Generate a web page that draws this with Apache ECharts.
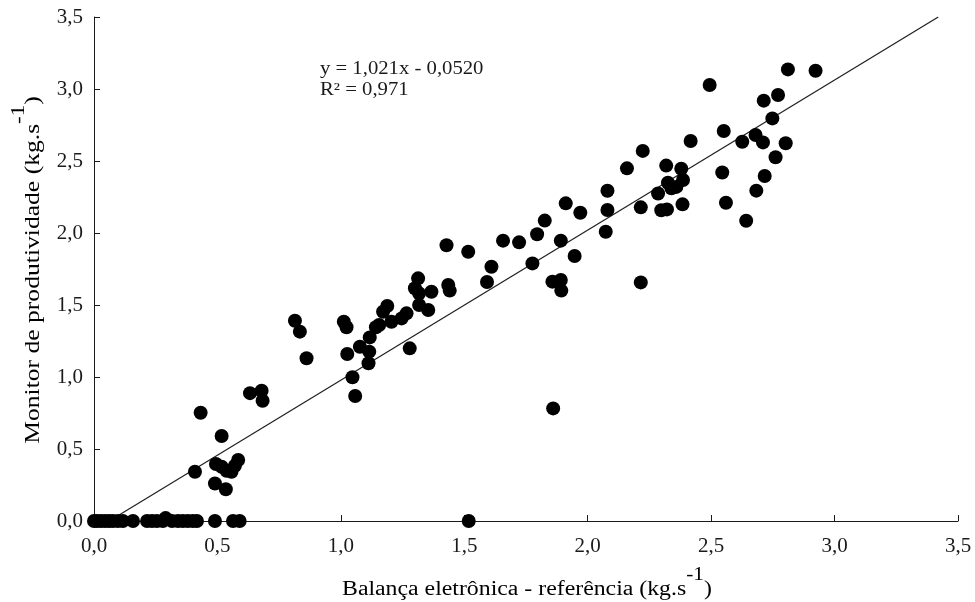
<!DOCTYPE html>
<html><head><meta charset="utf-8">
<script src="https://cdn.jsdelivr.net/npm/echarts@6/dist/echarts.min.js"></script>
<style>html,body{margin:0;padding:0;background:#fff}#c{width:975px;height:602px}</style>
</head><body><div id="c"></div>
<script>
const xTitle = ['Balança eletrônica - referência (kg.s', '-1', ')'];
const yTitle = ['Monitor de produtividade (kg.s', '-1', ')'];
const eqText = ['y = 1,021x - 0,0520', 'R² = 0,971'];
const xVals = [0.000,0.012,0.028,0.045,0.061,0.077,0.097,0.117,0.158,0.215,0.235,0.255,0.279,0.290,0.316,0.340,0.360,0.380,0.400,0.417,0.490,0.563,0.590,1.518,
0.409,0.432,0.490,0.494,0.517,0.517,0.534,0.537,0.557,0.571,0.584,0.632,0.679,0.683,
0.814,0.834,0.861,1.012,1.023,1.026,1.047,1.058,1.077,1.112,1.115,1.117,1.142,1.155,1.171,1.188,1.205,1.246,1.266,1.279,1.300,1.313,1.317,1.317,1.354,1.367,1.428,1.435,1.441,1.516,1.592,1.610,1.657,1.722,1.776,1.795,1.826,1.857,1.860,1.891,1.891,1.893,1.911,1.947,1.970,2.073,2.080,2.080,2.159,2.215,2.215,2.223,2.285,2.298,2.318,2.321,2.325,2.339,2.359,2.379,2.386,2.384,2.417,2.494,2.545,2.551,2.560,2.626,2.642,2.680,2.683,2.710,2.713,2.717,2.748,2.761,2.771,2.802,2.811,2.923];
const yVals = [0,0,0,0,0,0,0,0,0,0,0,0,0,0.02,0,0,0,0,0,0,0,0,0,0,
0.342,0.752,0.260,0.396,0.590,0.377,0.220,0.349,0.342,0.384,0.424,0.888,0.905,0.835,
1.391,1.315,1.130,1.384,1.345,1.160,0.998,0.868,1.210,1.095,1.176,1.275,1.345,1.361,1.453,1.493,1.384,1.407,1.442,1.199,1.616,1.685,1.581,1.500,1.465,1.592,1.915,1.639,1.600,1.870,1.660,1.766,1.947,1.935,1.789,1.991,2.086,1.662,0.782,1.947,1.674,1.600,2.206,1.840,2.141,2.009,2.293,2.160,2.449,1.657,2.178,2.570,2.274,2.158,2.468,2.164,2.349,2.310,2.320,2.446,2.368,2.199,2.639,3.028,2.420,2.708,2.210,2.634,2.085,2.681,2.294,2.629,2.919,2.396,2.796,2.526,2.958,2.623,3.136,3.127];
const trendX = [0.10, 3.42];
const trendY = [0.04, 3.50];

const pts = xVals.map((x,i)=>[x,yVals[i]]);
const trend = trendX.map((x,i)=>[x,trendY[i]]);
const fmt = v => v.toFixed(1).replace('.',',');
const font = 'Liberation Serif';
const col = '#1a1a1a';
const rich = {
  a:{fontFamily:font,fontSize:20,color:col,lineHeight:24,verticalAlign:'middle'},
  s:{fontFamily:font,fontSize:18,color:col,lineHeight:24,verticalAlign:'middle',padding:[0,0,30,0]}
};
const titleText = t => '{a|'+t[0]+'}{s|'+t[1]+'}{a|'+t[2]+'}';
const chart = echarts.init(document.getElementById('c'));
chart.setOption({
  animation:false,
  grid:{left:94,right:17,top:17,bottom:81},
  xAxis:{type:'value',min:0,max:3.5,interval:0.5,
    axisLine:{lineStyle:{color:col,width:1}},
    axisTick:{inside:true,length:6,lineStyle:{color:col}},
    axisLabel:{formatter:v=>fmt(v),fontFamily:font,fontSize:21,color:col,margin:15},
    splitLine:{show:false}},
  yAxis:{type:'value',min:0,max:3.5,interval:0.5,
    axisLine:{show:true,lineStyle:{color:col,width:1}},
    axisTick:{show:true,inside:true,length:6,lineStyle:{color:col}},
    axisLabel:{formatter:v=>fmt(v),fontFamily:font,fontSize:21,color:col,margin:11},
    splitLine:{show:false}},
  graphic:[
    {type:'text',x:527,y:590,scaleX:1.19,style:{text:titleText(xTitle),rich:rich,align:'center',verticalAlign:'middle'}},
    {type:'text',x:34,y:270,rotation:Math.PI/2,scaleX:1.28,style:{text:titleText(yTitle),rich:rich,align:'center',verticalAlign:'middle'}},
    {type:'text',x:320,y:69,scaleX:1.15,style:{text:eqText[0],font:'18px "Liberation Serif"',fill:col,align:'left',verticalAlign:'middle'}},
    {type:'text',x:320,y:90,scaleX:1.15,style:{text:eqText[1],font:'18px "Liberation Serif"',fill:col,align:'left',verticalAlign:'middle'}}
  ],
  series:[
    {type:'line',data:trend,symbol:'none',lineStyle:{color:'#222',width:1.3},z:1},
    {type:'scatter',data:pts,symbolSize:14,itemStyle:{color:'#000',opacity:1},z:2}
  ]
});
</script></body></html>
